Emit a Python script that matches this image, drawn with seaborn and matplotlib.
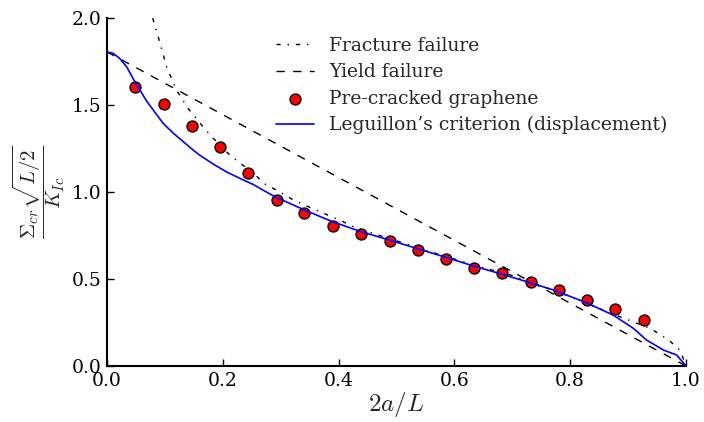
import matplotlib
matplotlib.use("Agg")
import matplotlib.pyplot as plt
import seaborn as sns

# ---- data ----
frac_x = [0.079, 0.09, 0.103, 0.12, 0.14, 0.161, 0.178, 0.212, 0.253, 0.273, 0.299,
          0.322, 0.345, 0.374, 0.408, 0.426, 0.46, 0.50, 0.55, 0.60, 0.65, 0.70,
          0.75, 0.80, 0.85, 0.886, 0.938, 0.97, 0.99, 1.0]
frac_y = [2.0, 1.874, 1.72, 1.586, 1.481, 1.395, 1.328, 1.213, 1.107, 1.046, 1.0,
          0.954, 0.92, 0.878, 0.829, 0.80, 0.762, 0.72, 0.665, 0.615, 0.565, 0.52,
          0.46, 0.40, 0.33, 0.283, 0.217, 0.15, 0.09, 0.0]

yield_x = [0.0, 1.0]
yield_y = [1.806, 0.0]

pts_x = [0.049, 0.098, 0.146, 0.195, 0.244, 0.293, 0.341, 0.390, 0.439, 0.488,
         0.537, 0.585, 0.634, 0.683, 0.732, 0.780, 0.829, 0.878, 0.927]
pts_y = [1.606, 1.507, 1.381, 1.260, 1.109, 0.954, 0.878, 0.805, 0.759, 0.718,
         0.667, 0.615, 0.563, 0.534, 0.483, 0.437, 0.379, 0.328, 0.264]

leg_x = [0.0, 0.011, 0.022, 0.034, 0.045, 0.057, 0.068, 0.080, 0.097, 0.115, 0.132,
         0.149, 0.161, 0.184, 0.207, 0.23, 0.253, 0.27, 0.292, 0.341, 0.390, 0.439,
         0.488, 0.535, 0.585, 0.633, 0.683, 0.731, 0.771, 0.80, 0.828, 0.874, 0.909,
         0.932, 0.961, 0.984, 1.0]
leg_y = [1.806, 1.797, 1.768, 1.72, 1.653, 1.586, 1.525, 1.471, 1.395, 1.337, 1.289,
         1.241, 1.21, 1.16, 1.115, 1.078, 1.043, 1.01, 0.97, 0.897, 0.829, 0.772,
         0.724, 0.676, 0.625, 0.575, 0.527, 0.479, 0.437, 0.40, 0.364, 0.293, 0.217,
         0.149, 0.092, 0.063, 0.0]

labels = ["Fracture failure", "Yield failure", "Pre-cracked graphene",
          "Leguillon\u2019s criterion (displacement)"]
x_ticks = [0.0, 0.2, 0.4, 0.6, 0.8, 1.0]
y_ticks = [0.0, 0.5, 1.0, 1.5, 2.0]

sns.set_style("ticks")
plt.rcParams["font.family"] = ["DejaVu Serif"]
plt.rcParams["mathtext.fontset"] = "cm"
plt.rcParams["xtick.direction"] = "in"
plt.rcParams["ytick.direction"] = "in"

fig = plt.figure(figsize=(7.04, 4.22), dpi=100)
ax = fig.add_axes([0.152, 0.1327, 0.8224, 0.8243])

sns.lineplot(x=frac_x, y=frac_y, ax=ax, color="black", lw=1, sort=False,
             estimator=None, linestyle=(0, (3, 5, 1, 5)), label=labels[0])
sns.lineplot(x=yield_x, y=yield_y, ax=ax, color="black", lw=1, sort=False,
             estimator=None, linestyle=(0, (6, 6)), label=labels[1])
sns.scatterplot(x=pts_x, y=pts_y, ax=ax, color="red", edgecolor="black",
                linewidth=1, s=62, zorder=3, label=labels[2])
sns.lineplot(x=leg_x, y=leg_y, ax=ax, color="blue", lw=1.2, sort=False,
             estimator=None, label=labels[3], zorder=4)

ax.set_xlim(0, 1.0)
ax.set_ylim(0, 2.0)
ax.set_xticks(x_ticks)
ax.set_yticks(y_ticks)
ax.set_xticklabels([f"{v:.1f}" for v in x_ticks])
ax.set_yticklabels([f"{v:.1f}" for v in y_ticks])
ax.tick_params(labelsize=13.5, length=5, width=1, colors="black", pad=4)
for s in ["top", "right"]:
    ax.spines[s].set_visible(False)
for s in ["left", "bottom"]:
    ax.spines[s].set_linewidth(1.5)
    ax.spines[s].set_color("black")

ax.set_xlabel(r"$2a/L$", fontsize=18, labelpad=0)
ax.set_ylabel(r"$\dfrac{\Sigma_{cr}\sqrt{L/2}}{K_{Ic}}$", fontsize=15, labelpad=3)

ax.legend(loc="upper right", frameon=False, fontsize=13.5, numpoints=1,
          scatterpoints=1, handlelength=2.0, handletextpad=0.8, labelspacing=0.45,
          borderaxespad=0.6)

fig.savefig("out.png", dpi=100)
